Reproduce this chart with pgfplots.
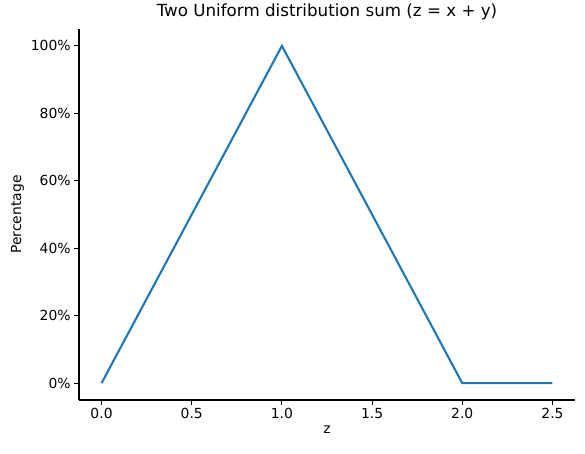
\documentclass[border=0pt]{standalone}
\usepackage{pgfplots}
\pgfplotsset{compat=1.18}
\usepackage{fontspec}
\setmainfont{DejaVu Sans}
\definecolor{mblue}{HTML}{1F77B4}
\begin{document}
\begin{tikzpicture}
\begin{axis}[
  scale only axis, width=496pt, height=371pt,
  xmin=-0.125, xmax=2.625, ymin=-5, ymax=105,
  axis x line*=bottom, axis y line*=left,
  axis line style={-, line width=1.1pt},
  xtick={0,0.5,1,1.5,2,2.5},
  xticklabels={0.0,0.5,1.0,1.5,2.0,2.5},
  ytick={0,20,40,60,80,100},
  yticklabel={\pgfmathprintnumber{\tick}\%},
  /pgf/number format/assume math mode=true,
  tick style={black, line width=1.1pt},
  major tick length=4.9pt,
  tick align=outside,
  ticklabel style={font=\fontsize{13.9}{16}\selectfont},
  xlabel={z}, ylabel={Percentage},
  label style={font=\fontsize{13.9}{16}\selectfont},
  title={Two Uniform distribution sum (z = x + y)},
  title style={font=\fontsize{16.7}{19}\selectfont},
]
\addplot[mblue, line width=2.1pt] coordinates {(0,0) (1,100) (2,0) (2.5,0)};
\end{axis}
\path (current axis.south west) ++(-79pt,-53pt) rectangle ++(585pt,453pt);
\end{tikzpicture}
\end{document}
